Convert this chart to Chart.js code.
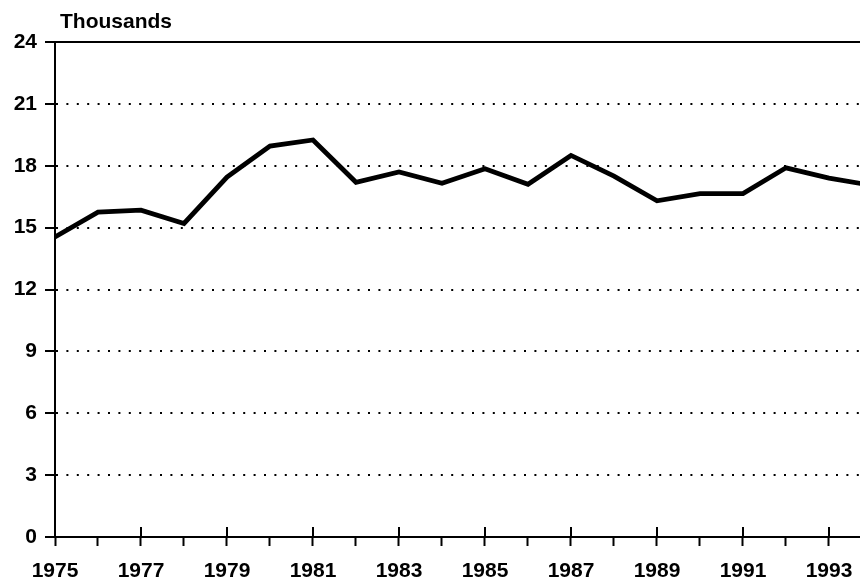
<!DOCTYPE html>
<html>
<head>
<meta charset="utf-8">
<title>Thousands, 1975-1994</title>
<script src="https://cdn.jsdelivr.net/npm/chart.js@4"></script>
<style>
    html, body { margin: 0; padding: 0; background: #fff; }
    #wrap { position: relative; width: 860px; height: 583px; }
</style>
</head>
<body>
<div id="wrap"><canvas id="chart" width="860" height="583"></canvas></div>
<script>
    // Data
    const years = [1975, 1976, 1977, 1978, 1979, 1980, 1981, 1982, 1983, 1984,
                   1985, 1986, 1987, 1988, 1989, 1990, 1991, 1992, 1993, 1994];
    const values = [14.55, 15.75, 15.85, 15.2, 17.45, 18.95, 19.25, 17.2, 17.7, 17.15,
                    17.85, 17.1, 18.5, 17.5, 16.3, 16.65, 16.65, 17.9, 17.4, 17.05];
    const yTicks = [0, 3, 6, 9, 12, 15, 18, 21, 24];
    const xTickYears = [1975, 1976, 1977, 1978, 1979, 1980, 1981, 1982, 1983, 1984,
                        1985, 1986, 1987, 1988, 1989, 1990, 1991, 1992, 1993];
    const unitLabel = 'Thousands';

    const FONT = "'Liberation Sans', Arial, Helvetica, sans-serif";

    // Top frame, inner half of the major year ticks and the unit label
    const decorations = {
        id: 'decorations',
        afterDraw(chart) {
            const ctx = chart.ctx;
            const area = chart.chartArea;
            const x = chart.scales.x;
            ctx.save();
            ctx.strokeStyle = '#000';
            ctx.lineWidth = 2;
            ctx.beginPath();
            ctx.moveTo(area.left, area.top);
            ctx.lineTo(area.right, area.top);
            ctx.stroke();

            ctx.beginPath();
            xTickYears.forEach(yr => {
                if (yr % 2 === 1 && yr !== 1975) {
                    const px = Math.round(x.getPixelForValue(yr));
                    ctx.moveTo(px, area.bottom);
                    ctx.lineTo(px, area.bottom - 10);
                }
            });
            ctx.stroke();

            ctx.fillStyle = '#000';
            ctx.font = 'bold 21px ' + FONT;
            ctx.textBaseline = 'middle';
            ctx.textAlign = 'left';
            ctx.fillText(unitLabel, area.left + 5, 22);
            ctx.restore();
        }
    };

    const background = {
        id: 'background',
        beforeDraw(chart) {
            const ctx = chart.ctx;
            ctx.save();
            ctx.fillStyle = '#fff';
            ctx.fillRect(0, 0, chart.width, chart.height);
            ctx.restore();
        }
    };

    new Chart(document.getElementById('chart'), {
        type: 'line',
        data: {
            datasets: [{
                data: years.map((yr, i) => ({ x: yr, y: values[i] })),
                borderColor: '#000',
                borderWidth: 4.8,
                pointRadius: 0,
                tension: 0,
                clip: 0
            }]
        },
        options: {
            responsive: false,
            animation: false,
            layout: { padding: { top: 42, right: 0, left: 0, bottom: 0 } },
            plugins: {
                legend: { display: false },
                tooltip: { enabled: false }
            },
            scales: {
                x: {
                    type: 'linear',
                    min: 1975,
                    max: 1975 + 805 / 43,
                    afterBuildTicks: scale => {
                        scale.ticks = xTickYears.map(v => ({ value: v }));
                    },
                    afterFit: scale => {
                        scale.height = 583 - 537;
                        scale.paddingRight = 0;
                    },
                    grid: {
                        drawOnChartArea: false,
                        drawTicks: true,
                        tickLength: 9,
                        tickColor: '#000',
                        tickWidth: 2
                    },
                    border: { display: true, color: '#000', width: 2 },
                    ticks: {
                        autoSkip: false,
                        maxRotation: 0,
                        padding: 13,
                        color: '#000',
                        font: { family: FONT, size: 21, weight: 'bold' },
                        callback: v => (v % 2 === 1 ? String(v) : '')
                    }
                },
                y: {
                    min: 0,
                    max: 24,
                    afterBuildTicks: scale => {
                        scale.ticks = yTicks.map(v => ({ value: v }));
                    },
                    afterFit: scale => { scale.width = 55; },
                    grid: {
                        color: ctx => (ctx.tick && (ctx.tick.value === 0 || ctx.tick.value === 24)) ? 'rgba(0,0,0,0)' : '#000',
                        lineWidth: 2,
                        tickLength: 10,
                        tickColor: '#000',
                        tickWidth: 2
                    },
                    border: { display: true, color: '#000', width: 2, dash: [2, 8.4] },
                    ticks: {
                        padding: 8,
                        color: '#000',
                        font: { family: FONT, size: 21, weight: 'bold' }
                    }
                }
            }
        },
        plugins: [background, decorations]
    });
</script>
</body>
</html>
